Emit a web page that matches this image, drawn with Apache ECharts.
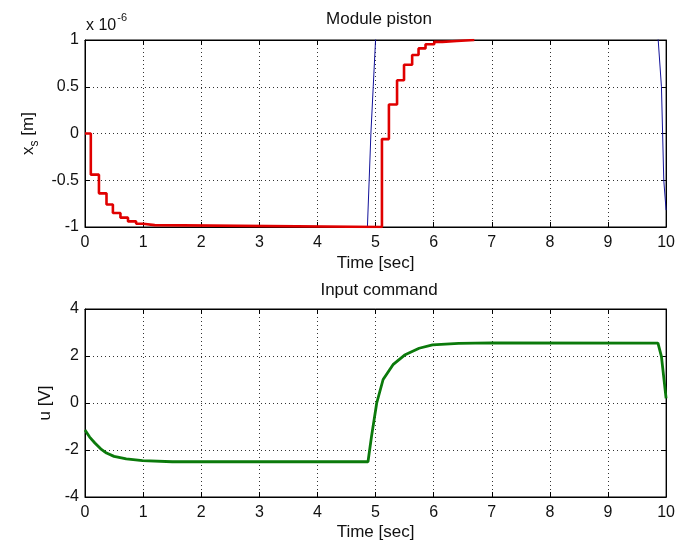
<!DOCTYPE html>
<html>
<head>
<meta charset="utf-8">
<script src="https://cdn.jsdelivr.net/npm/echarts@6/dist/echarts.min.js"></script>
<style>
html,body{margin:0;padding:0;background:#fff;}
#chart{width:678px;height:546px;}
</style>
</head>
<body>
<div id="chart"></div>
<script>
// Top plot: piston position (units of 1e-6 m), zero-order-hold steps [t, value]
var pistonTimes  = [0, 0.10, 0.24, 0.37, 0.48, 0.61, 0.74, 0.88, 1.00, 1.20, 5.11, 5.23, 5.37, 5.49, 5.63, 5.74, 5.86, 6.01, 6.15, 6.40, 6.70];
var pistonValues = [0, -0.44, -0.64, -0.76, -0.85, -0.90, -0.94, -0.965, -0.98, -1.0, -0.06, 0.31, 0.57, 0.735, 0.84, 0.91, 0.955, 0.98, 0.99, 1.0, 1.0];
// Blue continuous trace (leaves the visible range)
var blueTimes  = [4.84, 4.86, 4.89, 4.92, 4.96, 5.00, 5.02, null, 9.85, 9.864, 9.92, 9.94, 9.96, 10.0];
var blueValues = [-1.1, -1.0, -0.5, 0.0, 0.5, 1.0, 1.1, null, 1.1, 1.0, 0.5, 0.0, -0.5, -0.82];
// Bottom plot: input command [V]
var inputTimes  = [0, 0.08, 0.17, 0.27, 0.37, 0.50, 0.71, 0.99, 1.50, 4.87, 4.93, 5.02, 5.13, 5.30, 5.50, 5.75, 5.98, 6.43, 7.00, 9.86, 9.92, 10.0];
var inputValues = [-1.15, -1.45, -1.70, -1.95, -2.13, -2.27, -2.38, -2.45, -2.50, -2.50, -1.43, 0.0, 1.0, 1.63, 2.04, 2.33, 2.47, 2.54, 2.56, 2.55, 1.97, 0.2];
// Axis ticks
var xTicks = {min: 0, max: 10, interval: 1};
var yTopTicks = {min: -1, max: 1, interval: 0.5};
var yBotTicks = {min: -4, max: 4, interval: 2};

function zip(a, b) { return a.map(function (t, i) { return t === null ? [null, null] : [t, b[i]]; }); }

var FONT = 'Liberation Sans, Arial, sans-serif';
var axisLine = {show: true, onZero: false, lineStyle: {color: '#000', width: 1}};
var tickIn = {show: true, inside: true, length: 5, lineStyle: {color: '#000'}};
var dotted = {show: true, lineStyle: {color: '#333', type: [1, 3], width: 1}};
var lbl = {color: '#111', fontSize: 16, fontFamily: FONT};

function mainX(grid, gap) {
  return {gridIndex: grid, type: 'value', min: xTicks.min, max: xTicks.max, interval: xTicks.interval,
    axisLine: axisLine, axisTick: tickIn, axisLabel: Object.assign({margin: 8}, lbl), splitLine: dotted,
    name: 'Time [sec]', nameLocation: 'middle', nameGap: gap,
    nameTextStyle: {color: '#111', fontSize: 17, fontFamily: FONT}};
}
function topX(grid) {
  return {gridIndex: grid, type: 'value', position: 'top', min: xTicks.min, max: xTicks.max, interval: xTicks.interval,
    axisLine: axisLine, axisTick: tickIn, axisLabel: {show: false}, splitLine: {show: false}};
}
function mainY(grid, t, name, gap, rich) {
  return {gridIndex: grid, type: 'value', min: t.min, max: t.max, interval: t.interval,
    axisLine: axisLine, axisTick: tickIn, axisLabel: Object.assign({margin: 6}, lbl), splitLine: dotted,
    name: name, nameLocation: 'middle', nameGap: gap, nameRotate: 90,
    nameTextStyle: {color: '#111', fontSize: 17, fontFamily: FONT, rich: rich}};
}
function rightY(grid, t) {
  return {gridIndex: grid, type: 'value', position: 'right', min: t.min, max: t.max, interval: t.interval,
    axisLine: axisLine, axisTick: tickIn, axisLabel: {show: false}, splitLine: {show: false}};
}

var chart = echarts.init(document.getElementById('chart'), null, {renderer: 'canvas'});
chart.setOption({
  animation: false,
  backgroundColor: '#fff',
  grid: [
    {left: 85, right: 5, top: 40, height: 187, show: true, borderColor: '#000', borderWidth: 1, backgroundColor: '#fff'},
    {left: 85, right: 5, top: 309, height: 188, show: true, borderColor: '#000', borderWidth: 1, backgroundColor: '#fff'}
  ],
  xAxis: [mainX(0, 28), topX(0), mainX(1, 27), topX(1)],
  yAxis: [
    mainY(0, yTopTicks, '{m|x}{s|s}{m| [m]}', 44, {
      m: {fontSize: 17, fontFamily: FONT, color: '#111'},
      s: {fontSize: 12, fontFamily: FONT, color: '#111', padding: [12, 0, 0, 0]}
    }),
    rightY(0, yTopTicks),
    mainY(1, yBotTicks, 'u [V]', 28, {}),
    rightY(1, yBotTicks)
  ],
  graphic: [
    {type: 'text', x: 379, y: 19, style: {text: 'Module piston', font: '17px ' + FONT, fill: '#111', align: 'center', verticalAlign: 'middle'}},
    {type: 'text', x: 379, y: 290, style: {text: 'Input command', font: '17px ' + FONT, fill: '#111', align: 'center', verticalAlign: 'middle'}},
    {type: 'text', x: 86, y: 10, style: {
      text: '{a|x 10}{b|-6}', align: 'left', verticalAlign: 'top',
      rich: {a: {fontSize: 16, fontFamily: FONT, fill: '#111', color: '#111', padding: [8, 0, 0, 0]},
             b: {fontSize: 11, fontFamily: FONT, fill: '#111', color: '#111', padding: [0, 0, 8, 1]}}
    }}
  ],
  series: [
    {type: 'line', xAxisIndex: 0, yAxisIndex: 0, data: zip(blueTimes, blueValues), showSymbol: false, symbol: 'none',
      connectNulls: false, lineStyle: {color: '#12129a', width: 1}, clip: true, z: 2},
    {type: 'line', xAxisIndex: 0, yAxisIndex: 0, data: zip(pistonTimes, pistonValues), step: 'end', symbol: 'none',
      lineStyle: {color: '#e00000', width: 2.6}, clip: true, z: 3},
    {type: 'line', xAxisIndex: 2, yAxisIndex: 2, data: zip(inputTimes, inputValues), symbol: 'none',
      lineStyle: {color: '#0b7a0b', width: 2.8}, clip: true, z: 3}
  ]
});
</script>
</body>
</html>
